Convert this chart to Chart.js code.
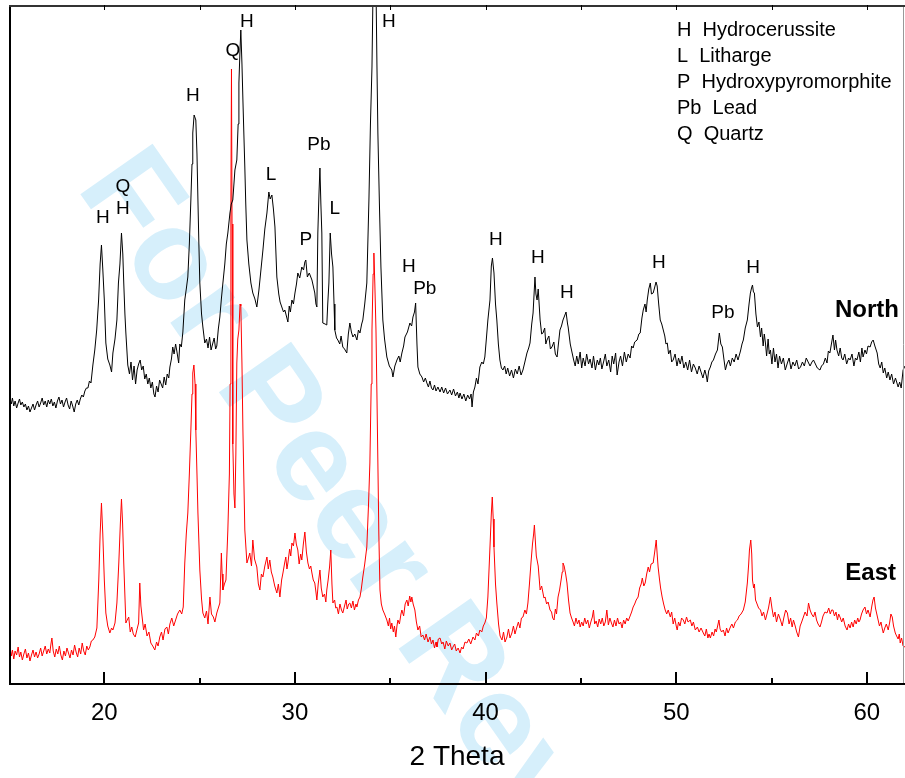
<!DOCTYPE html>
<html>
<head>
<meta charset="utf-8">
<title>XRD North / East</title>
<script src="https://cdn.jsdelivr.net/npm/chart.js@4.4.0/dist/chart.umd.min.js"></script>
<style>
  html, body { margin: 0; padding: 0; background: #fff; }
  #wrap { width: 905px; height: 778px; position: relative; }
</style>
</head>
<body>
<div id="wrap"><canvas id="xrdChart"></canvas></div>
<script>
const FONT = '"Liberation Sans", Arial, Helvetica, sans-serif';

// x axis (2 theta, degrees)
const thetaMin = 15;
const thetaMax = 62;
const thetaTicks = [20, 30, 40, 50, 60];

// intensity, arbitrary units (patterns are offset, y axis not labelled)
const intensityMax = 679;

// North sample scan: [2theta, intensity]
const northScan = [
  [15.00,274],[15.06,284],[15.12,280],[15.18,286],[15.25,278],[15.32,283],[15.40,276],[15.48,281],[15.55,285],[15.62,279],
  [15.70,282],[15.78,277],[15.86,280],[15.94,274],[16.02,278],[16.10,272],[16.18,276],[16.26,280],[16.34,274],[16.42,279],
  [16.50,283],[16.58,277],[16.66,281],[16.74,286],[16.82,279],[16.90,283],[16.98,277],[17.06,284],[17.14,280],[17.22,285],
  [17.30,278],[17.38,282],[17.46,276],[17.54,283],[17.62,287],[17.70,280],[17.78,284],[17.86,277],[17.94,282],[18.02,286],
  [18.10,279],[18.18,275],[18.26,283],[18.34,278],[18.42,272],[18.50,280],[18.58,284],[18.66,279],[18.74,285],[18.82,289],
  [18.90,287],[18.98,293],[19.06,296],[19.14,296],[19.22,303],[19.30,301],[19.40,319],[19.50,334],[19.60,354],[19.70,384],
  [19.78,420],[19.85,439],[19.92,415],[20.00,384],[20.08,341],[20.18,325],[20.29,319],[20.38,312],[20.45,331],[20.56,345],
  [20.66,364],[20.74,401],[20.82,420],[20.90,451],[20.97,430],[21.02,401],[21.08,370],[21.13,351],[21.23,319],[21.32,310],
  [21.40,322],[21.48,304],[21.56,318],[21.64,300],[21.72,314],[21.80,320],[21.88,324],[21.96,314],[22.04,318],[22.12,305],
  [22.20,310],[22.28,300],[22.36,306],[22.44,296],[22.52,302],[22.60,290],[22.66,287],[22.74,298],[22.82,292],[22.90,304],
  [22.98,300],[23.06,296],[23.14,307],[23.22,299],[23.30,310],[23.38,306],[23.44,317],[23.52,325],[23.59,337],[23.66,330],
  [23.74,340],[23.82,331],[23.90,321],[23.96,340],[24.04,337],[24.12,352],[24.22,384],[24.30,395],[24.38,407],[24.46,440],
  [24.54,484],[24.60,520],[24.64,551],[24.71,569],[24.80,564],[24.86,530],[24.91,484],[24.96,440],[25.01,401],[25.10,370],
  [25.17,357],[25.27,341],[25.36,345],[25.44,336],[25.52,347],[25.60,334],[25.68,340],[25.76,346],[25.84,335],[25.90,338],
  [25.98,355],[26.06,367],[26.14,385],[26.22,401],[26.32,420],[26.40,440],[26.48,451],[26.59,471],[26.66,480],[26.74,484],
  [26.85,514],[26.95,524],[27.02,560],[27.06,601],[27.11,630],[27.16,654],[27.22,620],[27.27,584],[27.32,550],[27.37,517],
  [27.42,480],[27.48,444],[27.58,420],[27.69,401],[27.79,391],[27.90,385],[28.00,377],[28.11,394],[28.22,415],[28.32,434],
  [28.42,455],[28.53,471],[28.63,492],[28.70,485],[28.79,489],[28.87,475],[28.95,457],[29.05,407],[29.15,390],[29.22,382],
  [29.31,377],[29.40,372],[29.47,374],[29.55,368],[29.63,362],[29.70,378],[29.76,372],[29.84,384],[29.92,380],[30.00,391],
  [30.08,400],[30.15,411],[30.25,406],[30.36,417],[30.45,414],[30.52,422],[30.57,424],[30.65,407],[30.75,411],[30.89,404],
  [30.96,398],[31.04,391],[31.10,380],[31.15,377],[31.20,451],[31.26,490],[31.31,516],[31.36,480],[31.41,451],[31.46,361],
  [31.58,360],[31.67,359],[31.72,380],[31.78,401],[31.85,451],[31.92,430],[31.99,417],[32.05,380],[32.09,354],[32.18,346],
  [32.25,344],[32.35,340],[32.42,348],[32.51,337],[32.60,335],[32.72,331],[32.80,350],[32.88,361],[32.96,352],[33.04,347],
  [33.14,350],[33.25,344],[33.33,354],[33.41,351],[33.50,360],[33.56,364],[33.66,380],[33.77,401],[33.88,484],[33.96,560],
  [34.04,617],[34.10,700],[34.18,780],[34.25,700],[34.30,620],[34.35,551],[34.43,480],[34.51,417],[34.61,364],[34.70,345],
  [34.82,327],[34.95,318],[35.08,314],[35.14,307],[35.24,318],[35.35,324],[35.45,328],[35.52,322],[35.61,331],[35.70,338],
  [35.77,347],[35.90,352],[36.03,361],[36.12,358],[36.19,367],[36.27,372],[36.33,381],[36.40,340],[36.45,317],[36.55,310],
  [36.66,307],[36.75,302],[36.84,306],[36.92,301],[37.00,297],[37.08,303],[37.16,296],[37.24,294],[37.32,299],[37.40,293],
  [37.50,297],[37.61,292],[37.70,297],[37.80,291],[37.90,296],[38.00,290],[38.13,294],[38.22,289],[38.32,295],[38.42,288],
  [38.52,292],[38.60,286],[38.66,291],[38.76,285],[38.86,290],[38.96,283],[39.06,289],[39.16,285],[39.24,290],[39.29,277],
  [39.36,292],[39.44,297],[39.52,306],[39.60,300],[39.70,317],[39.80,322],[39.88,320],[39.96,327],[40.04,345],[40.12,364],
  [40.23,384],[40.30,418],[40.36,426],[40.44,411],[40.52,380],[40.59,364],[40.67,340],[40.75,324],[40.83,316],[40.91,314],
  [41.00,318],[41.08,310],[41.16,316],[41.26,308],[41.36,314],[41.46,306],[41.56,315],[41.66,310],[41.76,318],[41.86,309],
  [41.96,314],[42.06,322],[42.17,331],[42.26,336],[42.33,341],[42.42,360],[42.49,371],[42.59,407],[42.64,390],[42.70,384],
  [42.76,395],[42.86,364],[42.94,350],[43.01,351],[43.10,356],[43.16,340],[43.22,344],[43.32,348],[43.40,335],[43.48,337],
  [43.58,342],[43.66,330],[43.75,327],[43.82,340],[43.90,354],[43.98,358],[44.06,364],[44.14,368],[44.22,372],[44.30,360],
  [44.33,357],[44.44,340],[44.54,331],[44.62,324],[44.70,318],[44.78,328],[44.86,320],[44.96,332],[45.04,316],[45.12,326],
  [45.22,318],[45.30,330],[45.40,320],[45.48,325],[45.58,316],[45.66,328],[45.76,314],[45.86,324],[45.94,319],[46.02,326],
  [46.10,315],[46.20,323],[46.28,330],[46.36,318],[46.46,324],[46.56,312],[46.64,328],[46.72,320],[46.82,331],[46.90,309],
  [47.00,322],[47.08,328],[47.18,318],[47.28,332],[47.38,322],[47.48,330],[47.58,326],[47.66,338],[47.74,336],[47.82,342],
  [47.95,344],[48.04,350],[48.11,351],[48.20,366],[48.27,374],[48.36,380],[48.42,372],[48.48,384],[48.56,395],[48.64,401],
  [48.70,390],[48.79,391],[48.86,396],[48.94,402],[49.00,398],[49.08,380],[49.16,364],[49.24,360],[49.32,354],[49.40,348],
  [49.46,340],[49.53,341],[49.60,330],[49.69,334],[49.76,322],[49.84,324],[49.94,330],[50.04,318],[50.12,326],[50.21,320],
  [50.30,328],[50.40,316],[50.50,322],[50.60,314],[50.70,324],[50.80,312],[50.90,320],[51.00,316],[51.10,310],[51.20,318],
  [51.30,312],[51.40,306],[51.50,314],[51.58,308],[51.63,302],[51.70,313],[51.79,317],[51.87,322],[51.95,324],[52.06,330],
  [52.16,334],[52.26,351],[52.34,340],[52.42,337],[52.50,325],[52.58,314],[52.66,320],[52.76,324],[52.84,318],[52.94,326],
  [53.04,322],[53.14,330],[53.24,324],[53.37,333],[53.45,340],[53.52,344],[53.62,356],[53.73,364],[53.82,380],[53.89,391],
  [53.95,396],[54.00,399],[54.05,392],[54.10,391],[54.18,370],[54.26,357],[54.34,362],[54.42,347],[54.48,356],[54.56,338],
  [54.62,350],[54.68,341],[54.74,328],[54.82,345],[54.88,330],[54.94,334],[55.02,320],[55.10,336],[55.18,322],[55.26,330],
  [55.34,316],[55.42,328],[55.52,320],[55.62,326],[55.72,314],[55.83,321],[55.92,326],[56.02,315],[56.12,322],[56.22,318],
  [56.32,324],[56.42,315],[56.52,317],[56.62,322],[56.72,318],[56.82,326],[56.92,322],[57.02,318],[57.12,322],[57.20,324],
  [57.30,320],[57.40,316],[57.54,314],[57.62,318],[57.72,320],[57.82,326],[57.91,321],[57.98,333],[58.06,331],[58.14,340],
  [58.22,349],[58.30,334],[58.36,344],[58.43,334],[58.52,328],[58.60,336],[58.68,326],[58.75,324],[58.84,330],[58.94,320],
  [59.04,326],[59.12,324],[59.22,330],[59.32,318],[59.40,326],[59.48,324],[59.58,332],[59.66,322],[59.74,336],[59.80,327],
  [59.90,334],[59.98,330],[60.06,338],[60.17,337],[60.25,342],[60.33,344],[60.42,338],[60.54,331],[60.62,320],[60.70,316],
  [60.78,322],[60.86,311],[60.94,316],[61.04,306],[61.12,312],[61.21,304],[61.30,310],[61.40,300],[61.50,306],[61.64,297],
  [61.72,302],[61.80,296],[61.90,314],[62.00,318]
];

// East sample scan: [2theta, intensity]
const eastScan = [
  [15.00,31],[15.06,36],[15.12,28],[15.18,34],[15.25,25],[15.32,33],[15.40,29],[15.48,37],[15.55,27],[15.62,32],
  [15.70,24],[15.78,30],[15.86,35],[15.94,26],[16.02,31],[16.10,23],[16.18,29],[16.26,34],[16.34,27],[16.42,32],
  [16.50,26],[16.58,30],[16.66,36],[16.74,28],[16.82,33],[16.90,38],[16.98,30],[17.06,35],[17.14,31],[17.20,40],
  [17.25,46],[17.32,33],[17.40,27],[17.48,35],[17.56,30],[17.64,38],[17.72,29],[17.80,24],[17.88,33],[17.96,28],
  [18.04,36],[18.12,31],[18.20,26],[18.28,34],[18.36,29],[18.44,39],[18.52,32],[18.60,27],[18.68,36],[18.76,30],
  [18.84,41],[18.92,33],[19.00,29],[19.08,38],[19.16,34],[19.24,37],[19.32,43],[19.40,44],[19.50,47],[19.61,56],
  [19.71,104],[19.78,150],[19.85,181],[19.92,150],[20.00,104],[20.08,71],[20.18,58],[20.29,51],[20.38,56],[20.45,54],
  [20.56,61],[20.66,81],[20.76,121],[20.84,160],[20.90,185],[20.96,160],[21.02,121],[21.13,61],[21.20,64],[21.28,67],
  [21.36,52],[21.44,57],[21.52,50],[21.62,47],[21.72,55],[21.80,61],[21.86,101],[21.92,78],[21.96,71],[22.06,54],
  [22.14,60],[22.24,48],[22.34,52],[22.44,41],[22.54,38],[22.65,34],[22.74,42],[22.82,38],[22.91,47],[23.00,52],
  [23.08,44],[23.18,55],[23.28,57],[23.36,50],[23.44,60],[23.54,66],[23.64,58],[23.74,64],[23.84,70],[23.96,74],
  [24.06,70],[24.14,77],[24.22,121],[24.30,150],[24.38,171],[24.46,210],[24.54,254],[24.60,290],[24.64,311],[24.70,319],
  [24.76,300],[24.80,254],[24.86,210],[24.91,171],[25.01,114],[25.10,85],[25.17,71],[25.27,66],[25.36,73],[25.44,60],
  [25.54,87],[25.62,70],[25.72,67],[25.80,62],[25.90,71],[25.98,76],[26.06,81],[26.14,131],[26.18,110],[26.22,94],
  [26.30,100],[26.38,104],[26.48,154],[26.56,210],[26.60,300],[26.64,480],[26.67,615],[26.70,460],[26.74,240],[26.80,190],
  [26.85,176],[26.90,230],[26.95,321],[27.00,345],[27.06,354],[27.12,380],[27.16,378],[27.22,320],[27.27,254],[27.37,154],
  [27.48,121],[27.56,126],[27.63,131],[27.72,118],[27.79,144],[27.88,125],[28.00,117],[28.08,100],[28.16,94],[28.24,110],
  [28.32,107],[28.42,118],[28.53,127],[28.60,115],[28.68,124],[28.76,112],[28.84,107],[28.94,98],[29.05,91],[29.13,100],
  [29.21,87],[29.30,104],[29.37,111],[29.45,120],[29.52,127],[29.58,115],[29.63,121],[29.72,135],[29.78,128],[29.84,141],
  [29.92,138],[30.00,151],[30.07,140],[30.15,134],[30.22,120],[30.30,130],[30.36,124],[30.44,140],[30.52,152],[30.60,132],
  [30.68,121],[30.76,115],[30.83,118],[30.89,111],[30.96,104],[31.04,101],[31.10,92],[31.15,84],[31.22,100],[31.31,114],
  [31.38,96],[31.46,87],[31.55,90],[31.62,82],[31.67,94],[31.74,104],[31.82,118],[31.88,134],[31.94,100],[31.99,81],
  [32.08,84],[32.14,76],[32.20,77],[32.28,70],[32.36,80],[32.44,74],[32.51,71],[32.60,78],[32.68,84],[32.74,75],
  [32.82,80],[32.88,81],[32.96,76],[33.04,83],[33.12,74],[33.20,80],[33.25,77],[33.33,84],[33.41,87],[33.48,95],
  [33.56,107],[33.66,120],[33.77,137],[33.86,180],[33.93,221],[34.00,300],[34.04,354],[34.10,410],[34.14,431],[34.19,400],
  [34.25,354],[34.30,290],[34.35,221],[34.40,150],[34.46,94],[34.53,80],[34.61,74],[34.70,70],[34.82,64],[34.90,58],
  [34.96,66],[35.02,55],[35.08,61],[35.16,52],[35.22,58],[35.29,47],[35.35,58],[35.40,64],[35.48,60],[35.56,70],
  [35.61,74],[35.70,68],[35.78,80],[35.87,84],[35.94,78],[36.02,88],[36.08,82],[36.13,87],[36.20,80],[36.29,74],
  [36.37,62],[36.45,54],[36.54,58],[36.62,47],[36.71,49],[36.80,44],[36.88,50],[36.98,42],[37.08,47],[37.16,40],
  [37.24,44],[37.32,36],[37.40,42],[37.45,37],[37.52,45],[37.61,46],[37.70,40],[37.77,42],[37.86,35],[37.94,43],
  [38.04,38],[38.13,41],[38.22,34],[38.29,37],[38.38,40],[38.46,33],[38.56,36],[38.66,31],[38.74,37],[38.82,35],
  [38.92,42],[39.02,41],[39.12,45],[39.22,40],[39.34,47],[39.44,44],[39.52,51],[39.62,48],[39.70,54],[39.80,52],
  [39.88,58],[39.96,61],[40.04,66],[40.12,87],[40.23,137],[40.30,170],[40.35,187],[40.40,165],[40.44,137],[40.52,100],
  [40.59,81],[40.68,60],[40.76,48],[40.86,44],[40.94,52],[41.02,42],[41.12,47],[41.20,55],[41.28,46],[41.38,51],
  [41.46,58],[41.54,50],[41.64,57],[41.72,62],[41.80,56],[41.88,66],[41.96,67],[42.06,74],[42.14,70],[42.22,81],
  [42.30,100],[42.38,121],[42.46,140],[42.52,150],[42.56,159],[42.62,140],[42.66,128],[42.70,124],[42.76,118],[42.86,94],
  [42.94,98],[43.00,92],[43.06,86],[43.12,87],[43.20,80],[43.28,82],[43.38,74],[43.46,72],[43.52,66],[43.59,64],
  [43.66,75],[43.72,70],[43.80,87],[43.88,94],[43.96,104],[44.02,112],[44.06,121],[44.12,118],[44.20,110],[44.27,101],
  [44.35,84],[44.43,71],[44.51,66],[44.59,62],[44.66,58],[44.74,66],[44.82,60],[44.90,64],[44.96,57],[45.04,62],
  [45.12,58],[45.20,66],[45.28,60],[45.36,64],[45.44,56],[45.52,62],[45.60,67],[45.66,74],[45.72,60],[45.80,63],
  [45.88,57],[45.96,65],[46.04,60],[46.12,66],[46.20,58],[46.28,62],[46.36,74],[46.44,59],[46.52,66],[46.60,61],
  [46.68,57],[46.76,64],[46.84,58],[46.92,66],[47.00,60],[47.08,62],[47.16,56],[47.24,64],[47.32,60],[47.40,66],
  [47.48,63],[47.58,68],[47.66,72],[47.74,77],[47.82,80],[47.90,84],[48.00,87],[48.08,96],[48.16,100],[48.22,106],
  [48.30,98],[48.37,101],[48.45,110],[48.53,117],[48.60,112],[48.68,120],[48.79,121],[48.87,132],[48.95,144],[49.00,130],
  [49.05,117],[49.12,105],[49.18,96],[49.26,87],[49.34,80],[49.42,74],[49.50,70],[49.58,74],[49.69,67],[49.76,72],
  [49.84,60],[49.92,66],[50.00,58],[50.05,54],[50.12,62],[50.20,58],[50.28,66],[50.37,64],[50.45,60],[50.54,67],
  [50.62,62],[50.74,64],[50.82,58],[50.90,62],[51.00,54],[51.11,57],[51.20,52],[51.30,56],[51.42,51],[51.50,48],
  [51.58,55],[51.66,46],[51.72,50],[51.79,46],[51.88,52],[51.96,48],[52.04,55],[52.10,52],[52.16,57],[52.24,64],
  [52.30,55],[52.38,52],[52.47,54],[52.56,48],[52.64,56],[52.72,51],[52.84,57],[52.92,60],[53.00,56],[53.10,62],
  [53.21,64],[53.30,68],[53.40,70],[53.52,74],[53.62,82],[53.73,101],[53.80,120],[53.84,134],[53.91,144],[53.96,130],
  [54.00,104],[54.06,96],[54.10,100],[54.16,84],[54.24,80],[54.32,76],[54.42,74],[54.50,68],[54.58,72],[54.68,64],
  [54.76,70],[54.84,76],[54.94,87],[55.02,76],[55.10,67],[55.18,72],[55.26,62],[55.36,70],[55.47,64],[55.56,58],
  [55.64,66],[55.74,74],[55.83,71],[55.92,60],[56.00,66],[56.08,57],[56.15,64],[56.24,58],[56.32,52],[56.41,47],
  [56.50,58],[56.58,62],[56.67,67],[56.76,72],[56.86,68],[56.94,81],[57.02,74],[57.10,70],[57.20,67],[57.28,72],
  [57.36,64],[57.44,60],[57.54,57],[57.62,62],[57.70,68],[57.80,72],[57.91,71],[58.00,76],[58.08,70],[58.15,74],
  [58.22,74],[58.30,68],[58.38,72],[58.46,64],[58.52,70],[58.59,67],[58.68,62],[58.76,66],[58.86,58],[58.96,54],
  [59.04,60],[59.12,56],[59.20,62],[59.28,57],[59.36,64],[59.44,60],[59.52,66],[59.58,62],[59.64,64],[59.72,70],
  [59.80,74],[59.90,77],[59.98,70],[60.06,74],[60.17,67],[60.26,78],[60.32,84],[60.38,87],[60.45,76],[60.52,70],
  [60.59,64],[60.66,58],[60.74,62],[60.80,56],[60.86,51],[60.94,56],[61.02,60],[61.12,54],[61.20,62],[61.26,70],
  [61.33,67],[61.40,58],[61.49,51],[61.56,48],[61.64,45],[61.70,50],[61.75,41],[61.82,46],[61.90,38],[62.00,37]
];

// phase marks above the North pattern: [text, 2theta, intensity]
const phaseMarks = [
  ['H', 19.92, 466], ['Q', 20.97, 497], ['H', 20.97, 475], ['H', 24.64, 588],
  ['Q', 26.74, 633], ['H', 27.48, 662], ['L', 28.74, 509], ['P', 30.57, 444],
  ['Pb', 31.26, 539], ['L', 32.09, 475], ['H', 34.92, 662], ['H', 35.97, 417],
  ['Pb', 36.81, 395], ['H', 40.54, 444], ['H', 42.74, 426], ['H', 44.26, 391],
  ['H', 49.09, 421], ['Pb', 52.45, 371], ['H', 54.03, 416]
];

const phaseKey = ['H  Hydrocerussite', 'L  Litharge', 'P  Hydroxypyromorphite', 'Pb  Lead', 'Q  Quartz'];
const keyAnchor = [50.04, 654];

// sample names, right aligned: [text, 2theta, intensity]
const sampleNames = [['North', 61.68, 374], ['East', 61.53, 111]];

const toPoints = scan => scan.map(p => ({ x: p[0], y: p[1] }));

const xrdDecor = {
  id: 'xrdDecor',
  beforeDraw(chart) {
    // review watermark, behind everything
    const ctx = chart.ctx;
    ctx.save();
    ctx.translate(390, 575);
    ctx.rotate(55 * Math.PI / 180);
    ctx.font = 'bold 128px ' + FONT;
    ctx.fillStyle = '#d6effb';
    ctx.textAlign = 'center';
    ctx.textBaseline = 'middle';
    ctx.fillText('For Peer Review', 0, 0);
    ctx.restore();
  },
  afterDatasetsDraw(chart) {
    const { ctx, chartArea: a, scales: { x, y } } = chart;
    ctx.save();

    // frame
    ctx.strokeStyle = '#999';
    ctx.lineWidth = 1;
    ctx.beginPath();
    ctx.moveTo(a.right - 1.5, a.top);
    ctx.lineTo(a.right - 1.5, a.bottom);
    ctx.stroke();
    ctx.strokeStyle = '#000';
    ctx.lineWidth = 2;
    ctx.beginPath();
    ctx.moveTo(a.left + 1, a.top);
    ctx.lineTo(a.left + 1, a.bottom);
    ctx.lineTo(a.right, a.bottom);
    ctx.stroke();
    ctx.strokeStyle = '#333';
    ctx.beginPath();
    ctx.moveTo(a.left, a.top + 1);
    ctx.lineTo(a.right, a.top + 1);
    ctx.stroke();

    // tick marks, pointing inward
    ctx.strokeStyle = '#000';
    ctx.lineWidth = 2;
    for (let t = 20; t <= 60; t += 5) {
      const px = Math.round(x.getPixelForValue(t));
      const len = t % 10 === 0 ? 12 : 6;
      ctx.beginPath();
      ctx.moveTo(px, a.bottom);
      ctx.lineTo(px, a.bottom - len);
      ctx.stroke();
    }
    ctx.lineWidth = 1;
    for (let t = 20; t <= 60; t += 5) {
      const px = Math.round(x.getPixelForValue(t)) + 0.5;
      ctx.beginPath();
      ctx.moveTo(px, a.top);
      ctx.lineTo(px, a.top + 5);
      ctx.stroke();
    }

    // phase letters
    ctx.fillStyle = '#000';
    ctx.font = '19px ' + FONT;
    ctx.textAlign = 'center';
    ctx.textBaseline = 'middle';
    phaseMarks.forEach(m => {
      ctx.fillText(m[0], x.getPixelForValue(m[1]), y.getPixelForValue(m[2]));
    });

    // phase key
    ctx.font = '20px ' + FONT;
    ctx.textAlign = 'left';
    const kx = x.getPixelForValue(keyAnchor[0]);
    const ky = y.getPixelForValue(keyAnchor[1]);
    phaseKey.forEach((s, i) => ctx.fillText(s, kx, ky + i * 26));

    // sample names
    ctx.font = 'bold 24px ' + FONT;
    ctx.textAlign = 'right';
    sampleNames.forEach(n => {
      ctx.fillText(n[0], x.getPixelForValue(n[1]), y.getPixelForValue(n[2]));
    });
    ctx.restore();
  }
};

new Chart(document.getElementById('xrdChart'), {
  type: 'line',
  data: {
    datasets: [
      { label: 'North', data: toPoints(northScan), borderColor: '#000', borderWidth: 1, pointRadius: 0, tension: 0 },
      { label: 'East', data: toPoints(eastScan), borderColor: '#ff0000', borderWidth: 1, pointRadius: 0, tension: 0 }
    ]
  },
  options: {
    responsive: true,
    maintainAspectRatio: false,
    animation: false,
    layout: { padding: { left: 9, top: 5, right: 0, bottom: 0 } },
    plugins: { legend: { display: false }, tooltip: { enabled: false } },
    scales: {
      x: {
        type: 'linear',
        min: thetaMin,
        max: thetaMax,
        grid: { display: false, drawTicks: false },
        border: { display: false },
        afterBuildTicks: scale => { scale.ticks = thetaTicks.map(v => ({ value: v })); },
        afterFit: scale => { scale.height = 94; },
        ticks: {
          padding: 15,
          color: '#000',
          autoSkip: false,
          maxRotation: 0,
          font: { family: FONT, size: 24 }
        },
        title: {
          display: true,
          text: '2 Theta',
          color: '#000',
          font: { family: FONT, size: 28 },
          padding: { top: 0, bottom: 4 }
        }
      },
      y: {
        display: false,
        min: 0,
        max: intensityMax
      }
    }
  },
  plugins: [xrdDecor]
});
</script>
</body>
</html>
